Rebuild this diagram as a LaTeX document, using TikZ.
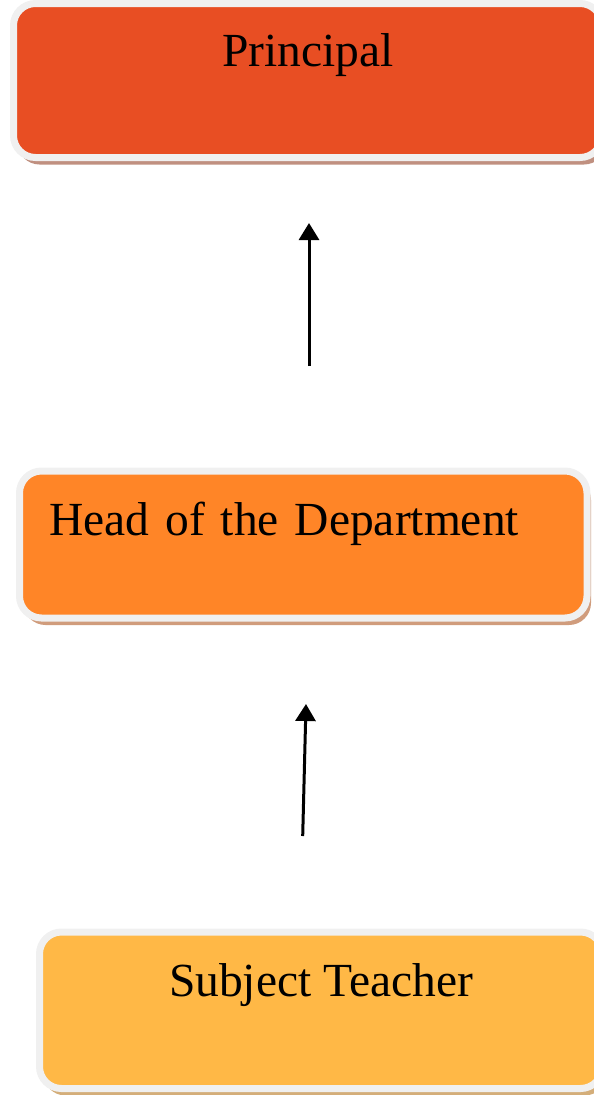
\documentclass[tikz,border=0pt]{standalone}
\usepackage{fontspec}
\setmainfont{Liberation Serif}
\usetikzlibrary{shadows,arrows.meta}
\definecolor{fillA}{RGB}{232,78,35}
\definecolor{fillB}{RGB}{255,133,39}
\definecolor{fillC}{RGB}{255,184,70}
\definecolor{ringgray}{RGB}{240,240,240}
\definecolor{shadA}{RGB}{192,144,128}
\definecolor{shadB}{RGB}{208,156,124}
\definecolor{shadC}{RGB}{212,174,122}
\tikzset{
  orgbox/.style={draw=ringgray, line width=7pt, rounded corners=22pt, inner sep=0pt,
    font=\fontsize{47.5}{50}\selectfont, text=black},
  arr/.style={line width=3pt, -{Triangle[width=20pt,length=17pt]}}
}
\begin{document}
\begin{tikzpicture}[x=1pt,y=-1pt]
\useasboundingbox (0,0) rectangle (594,1095);
\clip (0,0) rectangle (594,1095);
% Principal
\node[orgbox, fill=fillA, drop shadow={shadow xshift=4pt, shadow yshift=-7pt, fill=shadA, opacity=1},
  minimum width=588.5pt, minimum height=154pt, text height=40pt, text depth=67.6pt]
  (principal) at (307.75,80.5) {Principal};
% Head of the Department
\node[orgbox, fill=fillB, drop shadow={shadow xshift=4pt, shadow yshift=-7pt, fill=shadB, opacity=1},
  minimum width=567.5pt, minimum height=147pt, inner xsep=30pt, text width=507.5pt, align=left,
  text height=40pt, text depth=59pt]
  (hod) at (303.25,544.5) {Head of the Department};
% Subject Teacher
\node[orgbox, fill=fillC, drop shadow={shadow xshift=4pt, shadow yshift=-7pt, fill=shadC, opacity=1},
  minimum width=563pt, minimum height=156.5pt, text height=40pt, text depth=68.5pt]
  (teacher) at (321,1010.25) {Subject Teacher};
% arrows
\coordinate (a1s) at (309,366);
\coordinate (a1e) at (309,223);
\coordinate (a2s) at (302.7,836);
\coordinate (a2e) at (306,704);
\draw[arr] (a1s) -- (a1e);
\draw[arr] (a2s) -- (a2e);
\end{tikzpicture}
\end{document}
